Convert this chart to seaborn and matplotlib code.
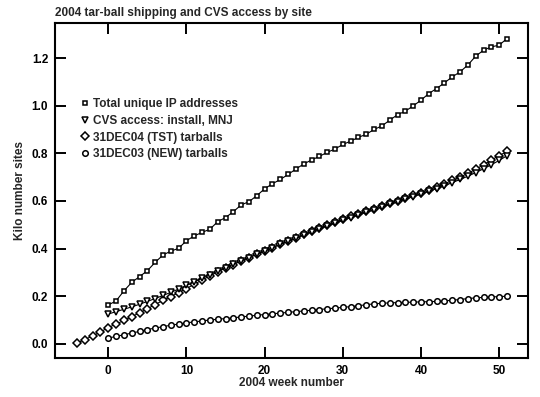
import numpy as np
import pandas as pd
import matplotlib
matplotlib.use("Agg")
import matplotlib.pyplot as plt
from matplotlib.lines import Line2D
import seaborn as sns

# Weekly values (kilo sites)
weeks = list(range(0, 52))
weeks_tst = list(range(-4, 52))

total_ip = [0.163, 0.180, 0.222, 0.258, 0.282, 0.307, 0.342, 0.373, 0.389, 0.401,
            0.433, 0.453, 0.468, 0.481, 0.513, 0.530, 0.555, 0.583, 0.597, 0.622,
            0.651, 0.672, 0.690, 0.711, 0.734, 0.755, 0.772, 0.787, 0.804, 0.818,
            0.837, 0.851, 0.867, 0.880, 0.900, 0.915, 0.939, 0.962, 0.977, 0.999,
            1.023, 1.051, 1.072, 1.096, 1.121, 1.142, 1.171, 1.208, 1.233, 1.247,
            1.254, 1.282]

cvs_access = [0.125, 0.135, 0.145, 0.155, 0.166, 0.178, 0.190, 0.203, 0.216, 0.230,
              0.245, 0.260, 0.275, 0.290, 0.305, 0.320, 0.334, 0.348, 0.362, 0.376,
              0.390, 0.404, 0.417, 0.430, 0.443, 0.456, 0.469, 0.482, 0.494, 0.506,
              0.518, 0.530, 0.541, 0.552, 0.563, 0.574, 0.585, 0.596, 0.607, 0.618,
              0.629, 0.640, 0.652, 0.664, 0.677, 0.690, 0.704, 0.719, 0.735, 0.752,
              0.770, 0.790]

tst_tarballs = [0.003, 0.018, 0.033, 0.050,
                0.068, 0.083, 0.098, 0.114, 0.130, 0.147, 0.165, 0.182, 0.198, 0.215,
                0.232, 0.250, 0.268, 0.285, 0.302, 0.318, 0.333, 0.348, 0.362, 0.376,
                0.390, 0.404, 0.418, 0.432, 0.446, 0.460, 0.473, 0.486, 0.499, 0.511,
                0.523, 0.535, 0.546, 0.557, 0.568, 0.579, 0.590, 0.601, 0.612, 0.623,
                0.635, 0.647, 0.659, 0.672, 0.686, 0.700, 0.716, 0.733, 0.752, 0.772,
                0.790, 0.808]

new_tarballs = [0.024, 0.031, 0.038, 0.045, 0.052, 0.060, 0.066, 0.072, 0.078, 0.083,
                0.088, 0.092, 0.096, 0.100, 0.103, 0.106, 0.109, 0.113, 0.116, 0.120,
                0.123, 0.126, 0.129, 0.132, 0.135, 0.138, 0.141, 0.144, 0.147, 0.150,
                0.153, 0.156, 0.160, 0.164, 0.168, 0.170, 0.172, 0.173, 0.174, 0.175,
                0.176, 0.177, 0.178, 0.180, 0.183, 0.186, 0.190, 0.193, 0.195, 0.197,
                0.198, 0.200]

labels = ["Total unique IP addresses", "CVS access: install, MNJ",
          "31DEC04 (TST) tarballs", "31DEC03 (NEW) tarballs"]
marker_map = {labels[0]: "s", labels[1]: "v", labels[2]: "D", labels[3]: "o"}
size_map = {labels[0]: 3.4, labels[1]: 3.8, labels[2]: 4.0, labels[3]: 4.0}

frames = [
    pd.DataFrame({"week": weeks, "kilo": total_ip, "series": labels[0]}),
    pd.DataFrame({"week": weeks, "kilo": cvs_access, "series": labels[1]}),
    pd.DataFrame({"week": weeks_tst, "kilo": tst_tarballs, "series": labels[2]}),
    pd.DataFrame({"week": weeks, "kilo": new_tarballs, "series": labels[3]}),
]

sns.set_style("ticks")
plt.rcParams["font.family"] = ["Liberation Sans", "DejaVu Sans"]
plt.rcParams["font.weight"] = "bold"
plt.rcParams["font.size"] = 8

fig = plt.figure(figsize=(5.4, 3.97), dpi=100)
ax = fig.add_axes([0.102, 0.098, 0.876, 0.844])

# draw in reverse so the IP series sits on top
for df in frames[::-1]:
    name = df["series"].iloc[0]
    sns.lineplot(data=df, x="week", y="kilo", ax=ax, color="black",
                 marker=marker_map[name], markersize=size_map[name],
                 markerfacecolor="white", markeredgecolor="black",
                 markeredgewidth=1.1, linewidth=0.8, legend=False)

ax.set_xlim(-6.8, 53.7)
ax.set_ylim(-0.06, 1.347)
ax.set_xticks([0, 10, 20, 30, 40, 50])
ax.set_yticks([0.0, 0.2, 0.4, 0.6, 0.8, 1.0, 1.2])
ax.yaxis.set_major_formatter(matplotlib.ticker.FormatStrFormatter("%.1f"))

for s in ax.spines.values():
    s.set_visible(True)
    s.set_linewidth(1.5)
    s.set_color("black")
ax.tick_params(direction="in", length=8, width=1.4, top=True, right=True,
               labeltop=False, labelright=False, pad=5, labelsize=8.5, colors="black")

ax.set_xlabel("2004 week number", fontsize=8.5, fontweight="bold", labelpad=0)
ax.set_ylabel("Kilo number sites", fontsize=8.5, fontweight="bold", labelpad=4)
ax.set_title("2004 tar-ball shipping and CVS access by site", loc="left",
             fontsize=8.5, fontweight="bold", pad=5)

handles = [Line2D([], [], linestyle="none", marker=marker_map[l], markersize=size_map[l],
                  markerfacecolor="white", markeredgecolor="black", markeredgewidth=1.1)
           for l in labels]
ax.legend(handles, labels, loc="upper left", bbox_to_anchor=(0.045, 0.79),
          frameon=False, handlelength=0.6, handletextpad=0.4, labelspacing=0.4,
          borderaxespad=0, prop={"size": 8.5, "weight": "bold"})

fig.savefig("out.png", dpi=100)
